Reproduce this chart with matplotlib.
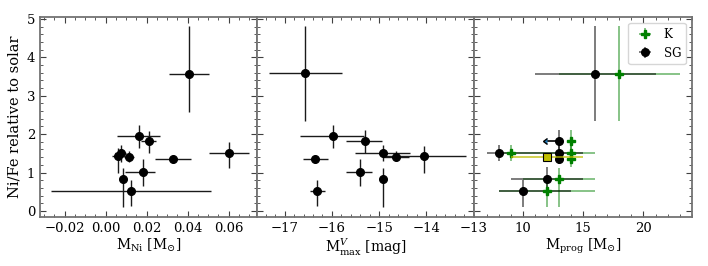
import matplotlib
matplotlib.use("Agg")
import matplotlib.pyplot as plt
from matplotlib.ticker import AutoMinorLocator, MultipleLocator

plt.rcParams['font.family'] = 'DejaVu Serif'
plt.rcParams['mathtext.fontset'] = 'dejavuserif'

# Ni/Fe ratio vs M_Ni
ni_mass = [0.0406, 0.060, 0.0328, 0.0161, 0.021, 0.0073, 0.0062, 0.0114, 0.0182, 0.0083, 0.0122]
ni_mass_lo = [0.0097, 0.0096, 0.0088, 0.0107, 0.0036, 0.0029, 0.0032, 0.0024, 0.0089, 0.0, 0.0387]
ni_mass_hi = [0.0098, 0.0100, 0.0087, 0.0104, 0.0034, 0.0029, 0.0028, 0.0024, 0.0057, 0.0, 0.0390]
ratio1 = [3.57, 1.52, 1.34, 1.94, 1.82, 1.50, 1.42, 1.41, 1.02, 0.83, 0.52]
ratio1_lo = [1.00, 0.39, 0.08, 0.29, 0.32, 0.22, 0.44, 0.13, 0.36, 0.73, 0.39]
ratio1_hi = [1.25, 0.27, 0.08, 0.31, 0.27, 0.22, 0.22, 0.14, 0.33, 0.30, 0.29]

# Ni/Fe ratio vs peak V magnitude
mv_max = [-16.56, -15.98, -15.30, -14.92, -14.65, -14.05, -16.35, -15.41, -14.92, -16.31]
mv_lo = [0.78, 0.70, 0.39, 0.59, 0.27, 0.88, 0.26, 0.28, 0.0, 0.16]
mv_hi = [0.78, 0.66, 0.37, 0.58, 0.29, 0.90, 0.27, 0.27, 0.0, 0.16]
ratio2 = [3.59, 1.94, 1.82, 1.51, 1.41, 1.42, 1.34, 1.02, 0.83, 0.52]
ratio2_lo = [1.26, 0.29, 0.32, 0.20, 0.10, 0.44, 0.08, 0.36, 0.73, 0.39]
ratio2_hi = [1.23, 0.31, 0.29, 0.21, 0.14, 0.26, 0.08, 0.33, 0.30, 0.29]

# progenitor masses, K and SG estimates
k_mass = [18, 14, 9, 14, 14, 13, 12]
k_mass_lo = [5, 0, 1, 0, 0, 3, 4]
k_mass_hi = [5, 0, 7, 0, 0, 3, 4]
k_ratio = [3.57, 1.82, 1.51, 1.51, 1.34, 0.84, 0.52]
k_ratio_lo = [1.24, 0.32, 0.20, 0.20, 0.19, 0.73, 0.41]
k_ratio_hi = [1.25, 0.29, 0.20, 0.20, 0.10, 0.27, 0.29]

sg_mass = [16, 8, 13, 13, 12, 10]
sg_mass_lo = [5, 1, 0, 0, 3, 2]
sg_mass_hi = [5, 7, 0, 0, 3, 4]
sg_ratio = [3.57, 1.51, 1.51, 1.34, 0.84, 0.52]
sg_ratio_lo = [1.24, 0.20, 0.20, 0.12, 0.30, 0.41]
sg_ratio_hi = [1.25, 0.20, 0.20, 0.10, 0.30, 0.29]

# SG upper limit on mass
sg_lim_mass = [13]
sg_lim_ratio = [1.82]
sg_lim_ratio_err = [0.30]

# extra object (yellow square)
sq_mass = [12]
sq_mass_err = [3]
sq_ratio = [1.40]


def style(ax):
    ax.tick_params(which='both', direction='in', top=True, right=True, colors='0.25', labelsize=9.5, labelcolor='black')
    ax.tick_params(which='major', length=4)
    ax.tick_params(which='minor', length=2)
    ax.xaxis.set_minor_locator(AutoMinorLocator())
    ax.yaxis.set_minor_locator(AutoMinorLocator())
    for s in ax.spines.values():
        s.set_color('0.45')
        s.set_linewidth(1.3)


fig, axs = plt.subplots(1, 3, sharey=True, figsize=(7.08, 2.66), dpi=100)
fig.subplots_adjust(left=0.0565, right=0.977, bottom=0.184, top=0.936, wspace=0)

ax = axs[0]
ax.errorbar(ni_mass, ratio1, xerr=[ni_mass_lo, ni_mass_hi], yerr=[ratio1_lo, ratio1_hi],
            fmt='o', color='black', ms=5.5, lw=1, ecolor='0.1')
ax.set_xlim(-0.032, 0.074)
ax.set_ylim(-0.16, 5.05)
ax.xaxis.set_major_locator(MultipleLocator(0.02))
ax.set_xlabel(r'M$_{\rm Ni}$ [M$_{\odot}$]', fontsize=10, labelpad=1)
ax.set_ylabel('Ni/Fe relative to solar', fontsize=10.5)
style(ax)

ax = axs[1]
ax.errorbar(mv_max, ratio2, xerr=[mv_lo, mv_hi], yerr=[ratio2_lo, ratio2_hi],
            fmt='o', color='black', ms=5.5, lw=1, ecolor='0.1')
ax.set_xlim(-17.58, -12.98)
ax.set_xlabel(r'M$^{V}_{\rm max}$ [mag]', fontsize=10, labelpad=1)
style(ax)

ax = axs[2]
eb = ax.errorbar(k_mass, k_ratio, xerr=[k_mass_lo, k_mass_hi], yerr=[k_ratio_lo, k_ratio_hi],
                 fmt='P', color='green', ms=6, lw=1.2, label='K')
eb[2][0].set_alpha(0.55)
eb[2][1].set_alpha(0.55)
eb = ax.errorbar(sg_mass, sg_ratio, xerr=[sg_mass_lo, sg_mass_hi], yerr=[sg_ratio_lo, sg_ratio_hi],
                 fmt='o', color='black', ms=5.5, lw=1.2, label='SG')
eb[2][0].set_alpha(0.6)
eb[2][1].set_alpha(0.6)
# upper limit: arrow pointing to lower mass
ax.errorbar(sg_lim_mass, sg_lim_ratio, xerr=1, xuplims=True, fmt='none',
            ecolor='black', lw=1.2, capsize=2)
ax.errorbar(sg_lim_mass, sg_lim_ratio, yerr=sg_lim_ratio_err,
            fmt='o', color='black', ms=5.5, lw=1.2, ecolor=(0, 0, 0, 0.6))
ax.errorbar(sq_mass, sq_ratio, xerr=sq_mass_err, yerr=0.06, fmt='s', color='y', mec='black',
            mew=0.8, ms=5.5, lw=1.2, ecolor=(0.75, 0.75, 0, 0.8), zorder=5)
ax.set_xlim(6, 24)
ax.set_xlabel(r'M$_{\rm prog}$ [M$_{\odot}$]', fontsize=10, labelpad=1)
ax.legend(loc='upper right', fontsize=8.5, handletextpad=0.6, borderpad=0.4)
style(ax)

fig.savefig('out.png', dpi=100)
